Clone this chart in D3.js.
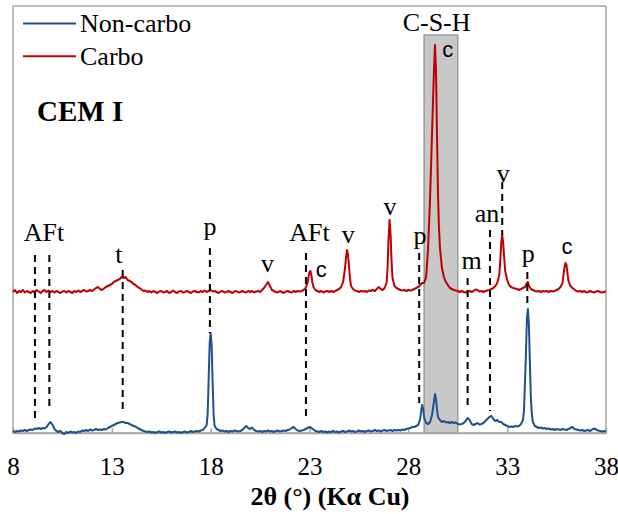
<!DOCTYPE html>
<html>
<head>
<meta charset="utf-8">
<script src="https://cdn.jsdelivr.net/npm/d3@7"></script>
<style>
  html, body { margin: 0; padding: 0; background: #fff; }
  svg text { font-family: "Liberation Serif", "DejaVu Serif", serif; fill: #000; }
</style>
</head>
<body>
<svg id="chart" width="618" height="514"></svg>
<script>
// ---------- DATA ----------
const xTicks = [8, 13, 18, 23, 28, 33, 38];

const nonCarboTheta = [8.0,8.1,8.2,8.3,8.4,8.5,8.6,8.7,8.8,8.9,9.0,9.1,9.2,9.3,9.4,9.5,9.6,9.7,9.8,9.9,10.0,10.1,10.2,10.3,10.4,10.5,10.6,10.7,10.8,10.9,11.0,11.1,11.2,11.3,11.4,11.5,11.6,11.7,11.8,11.9,12.0,12.1,12.2,12.3,12.4,12.5,12.6,12.7,12.8,12.9,13.0,13.1,13.2,13.3,13.4,13.5,13.6,13.7,13.8,13.9,14.0,14.1,14.2,14.3,14.4,14.5,14.6,14.7,14.8,14.9,15.0,15.1,15.2,15.3,15.4,15.5,15.6,15.7,15.8,15.9,16.0,16.1,16.2,16.3,16.4,16.5,16.6,16.7,16.8,16.9,17.0,17.1,17.2,17.3,17.4,17.5,17.6,17.7,17.8,17.85,17.9,17.95,18.0,18.05,18.1,18.15,18.2,18.3,18.4,18.5,18.6,18.7,18.8,18.9,19.0,19.1,19.2,19.3,19.4,19.5,19.6,19.7,19.8,19.9,20.0,20.1,20.2,20.3,20.4,20.5,20.6,20.7,20.8,20.9,21.0,21.1,21.2,21.3,21.4,21.5,21.6,21.7,21.8,21.9,22.0,22.1,22.2,22.3,22.4,22.5,22.6,22.7,22.8,22.9,23.0,23.1,23.2,23.3,23.4,23.5,23.6,23.7,23.8,23.9,24.0,24.1,24.2,24.3,24.4,24.5,24.6,24.7,24.8,24.9,25.0,25.1,25.2,25.3,25.4,25.5,25.6,25.7,25.8,25.9,26.0,26.1,26.2,26.3,26.4,26.5,26.6,26.7,26.8,26.9,27.0,27.1,27.2,27.3,27.4,27.5,27.6,27.7,27.8,27.9,28.0,28.1,28.2,28.3,28.4,28.5,28.6,28.65,28.7,28.75,28.8,28.9,29.0,29.1,29.2,29.3,29.35,29.4,29.45,29.5,29.6,29.7,29.8,29.9,30.0,30.1,30.2,30.3,30.4,30.5,30.6,30.7,30.8,30.9,31.0,31.1,31.2,31.3,31.4,31.5,31.6,31.7,31.8,31.9,32.0,32.1,32.2,32.3,32.4,32.5,32.6,32.7,32.8,32.9,33.0,33.1,33.2,33.3,33.4,33.5,33.6,33.7,33.8,33.85,33.9,33.95,34.0,34.05,34.1,34.15,34.2,34.25,34.3,34.4,34.5,34.6,34.7,34.8,34.9,35.0,35.1,35.2,35.3,35.4,35.5,35.6,35.7,35.8,35.9,36.0,36.1,36.2,36.3,36.4,36.5,36.6,36.7,36.8,36.9,37.0,37.1,37.2,37.3,37.4,37.5,37.6,37.7,37.8,37.9,38.0];
const nonCarboCounts = [2,1,2,1.5,2.5,2,3,2,3,3.5,3,4.5,4,5,4,5,4.5,6,9,11,8,4,2,1,2,0,-1,1,0,1.5,0.5,1,0,1.5,1,2.5,2,3,2,3.5,2.5,3,4,3,3.5,3,4,3.5,5,6,7,8,9,10,10.5,11,11,10,10,9,8,7,6.5,5,4,3,2,1.5,1,1.5,0.5,1,0,1,1.5,0.5,1,0,1,1.5,0.5,1,1.5,0.5,1,0,1,1.5,0.5,1,2,1,1.5,2,1.5,2.5,3,5,8,20,55,90,100,88,50,18,7,4,3,2,2.5,1.5,2,1,2,1.5,2.5,2,1.5,2,3,5,7,5,4,5.5,3,2,1.5,2,1,2,1.5,2.5,1.5,2,1,2,2.5,1.5,2,2.5,2,3,3.5,5,6,4,2.5,2,2.5,3,4,5,6,5,3.5,2,1.5,1,2,1,1.5,0.5,1.5,1,2,1,1.5,0.5,1.5,2,1,1.5,2.5,1.5,2,1,1.5,2.5,1.5,2,1,2,2.5,1.5,2,3,2,2.5,1.5,2.5,3,2,2.5,3,2,3,2.5,3,2.5,3.5,3,4,4.5,5,6,6,7,8,14,22,28,24,15,10,9,11,18,32,39,34,24,16,13,11,12,10.5,11,10,11,10,10.5,9,8.5,9,10,12,15,13,9,8,9,10,8.5,9,10,12,14,16,17,14,12,13,11,11,9,8,7,6,6.5,6,7,6.5,7,9,13,22,50,80,115,124,108,70,35,18,11,7,6,5,5.5,4.5,5,4,4.5,3.5,4,3,4,3.5,3,4,3.5,3,4,5,6,4,3.5,3,2.5,3,2,2.5,3,2,3.5,4.5,3.5,2.5,2,1.5,2,1.5];

const carboTheta = [8.0,8.1,8.2,8.3,8.4,8.5,8.6,8.7,8.8,8.9,9.0,9.1,9.2,9.3,9.4,9.5,9.6,9.7,9.8,9.9,10.0,10.1,10.2,10.3,10.4,10.5,10.6,10.7,10.8,10.9,11.0,11.1,11.2,11.3,11.4,11.5,11.6,11.7,11.8,11.9,12.0,12.1,12.2,12.3,12.4,12.5,12.6,12.7,12.8,12.9,13.0,13.1,13.2,13.3,13.4,13.5,13.6,13.7,13.8,13.9,14.0,14.1,14.2,14.3,14.4,14.5,14.6,14.7,14.8,14.9,15.0,15.1,15.2,15.3,15.4,15.5,15.6,15.7,15.8,15.9,16.0,16.1,16.2,16.3,16.4,16.5,16.6,16.7,16.8,16.9,17.0,17.1,17.2,17.3,17.4,17.5,17.6,17.7,17.8,17.9,18.0,18.1,18.2,18.3,18.4,18.5,18.6,18.7,18.8,18.9,19.0,19.1,19.2,19.3,19.4,19.5,19.6,19.7,19.8,19.9,20.0,20.1,20.2,20.3,20.4,20.5,20.6,20.7,20.8,20.9,21.0,21.1,21.2,21.3,21.4,21.5,21.6,21.7,21.8,21.9,22.0,22.1,22.2,22.3,22.4,22.5,22.6,22.7,22.8,22.9,22.95,23.0,23.05,23.1,23.15,23.2,23.3,23.4,23.5,23.6,23.7,23.8,23.9,24.0,24.1,24.2,24.3,24.4,24.5,24.6,24.7,24.8,24.85,24.9,24.95,25.0,25.05,25.1,25.2,25.3,25.4,25.5,25.6,25.7,25.8,25.9,26.0,26.1,26.2,26.3,26.4,26.5,26.6,26.7,26.8,26.9,26.95,27.0,27.05,27.1,27.15,27.2,27.3,27.4,27.5,27.6,27.7,27.8,27.9,28.0,28.1,28.2,28.3,28.4,28.5,28.6,28.7,28.8,28.9,29.0,29.1,29.2,29.3,29.35,29.4,29.45,29.5,29.55,29.6,29.7,29.8,29.9,30.0,30.1,30.2,30.3,30.4,30.5,30.6,30.7,30.8,30.9,31.0,31.1,31.2,31.3,31.4,31.5,31.6,31.7,31.8,31.9,32.0,32.1,32.2,32.3,32.4,32.5,32.6,32.65,32.7,32.75,32.8,32.85,32.9,33.0,33.1,33.2,33.3,33.4,33.5,33.6,33.7,33.8,33.9,34.0,34.05,34.1,34.2,34.3,34.4,34.5,34.6,34.7,34.8,34.9,35.0,35.1,35.2,35.3,35.4,35.5,35.6,35.7,35.8,35.85,35.9,35.95,36.0,36.05,36.1,36.2,36.3,36.4,36.5,36.6,36.7,36.8,36.9,37.0,37.1,37.2,37.3,37.4,37.5,37.6,37.7,37.8,37.9,38.0];
const carboCounts = [141,143,140,142,141,143,140.5,142,141,140,142,141,143,141.5,140,142,143,141,142.5,141,142,140.5,142,141,140,141.5,142,140.5,142,141,140,142,141,142.5,141,142,143,141.5,142,143,142,143.5,145,146,144,143,144.5,146,147,148,149,151,152,153,154,156,155,156,153,152,151,149,148,146,145,143.5,142,142.5,141,142,140.5,142,141,140,141.5,142,140.5,141,142,140,141,142.5,141,140,141.5,142,140.5,141,142,141,140,141.5,142,141,140.5,142,141,142.5,141,142,143,141.5,142,141,140,141.5,142,140.5,141,142,141,140,141.5,142,140.5,141,142,141,140.5,142,141,142,140.5,141.5,142,141,143,145,148,151,147,143,142,141,140.5,142,141,140,141.5,142,141,140.5,142,141,142,141.5,142,143,145,150,156,161,162,157,150,146,143,142,141,142,140.5,141.5,142,141,142,141,142,143,144,146,151,165,176,183,178,166,154,147,144,142.5,142,141,142,141.5,142,141,142.5,142,143,142,144,146,144,143,145,150,165,195,213,200,172,155,147,145,144,143,142.5,143,142,143,142.5,143,144,145,146,148,150,150,156,185,235,300,365,388,362,300,240,205,185,165,156,151,148,145,144,143,142.5,142,141,142,141,140.5,141.5,142,141,142,143.5,143,141.5,142,141,142,142.5,143,144,145,147,150,158,172,190,198,190,175,162,153,148,146,145,144.5,144,143,144,145,146,150,151,147,144,143,142,141.5,142,141,142,141.5,142,141,142,141.5,142,143,144,146,150,158,166,170,168,160,152,147,145,143.5,142,141.5,142,141,142,140.5,141,142,141,140.5,141.5,142,141,140.5,141,141.5];

// Shaded C-S-H region (2θ range)
const cshRange = [28.8, 30.5];
const cshTop = 398;

// Reference (dashed) lines: position in 2θ, from / to intensity
const markerTheta  = [9.11, 9.84, 13.55, 17.96, 22.82, 28.55, 31.0, 32.13, 32.75, 34.02];
const markerFrom   = [178, 178, 163, 185, 180, 180, 155, 203, 251, 161];
const markerTo     = [11, 27, 21, 100, 13, 30, 25, 22, 198, 130];

// Phase labels
const labelText  = ["AFt","t","p","v","AFt","c","v","v","p","c","m","an","v","p","c"];
const labelTheta = [9.57,13.36,17.96,20.87,23.0,23.6,24.96,27.07,28.59,30.0,31.2,31.98,32.8,34.07,36.03];
const labelCount = [192,170,198,161,192,156,190,218,189,376,164,211,251,171,179];

const seriesNames = ["Non-carbo", "Carbo"];
const seriesColors = ["#23508c", "#c00000"];

// ---------- CHART ----------
const svg = d3.select("#chart");
const mLeft = 13, mRight = 606, mTop = 6, mBottom = 433;

const x = d3.scaleLinear().domain([8, 38]).range([mLeft, mRight]);
const y = d3.scaleLinear().domain([0, 427]).range([mBottom, mTop]);

// plot border
svg.append("rect")
  .attr("x", mLeft).attr("y", mTop)
  .attr("width", mRight - mLeft).attr("height", mBottom - mTop)
  .attr("fill", "none").attr("stroke", "#a6a6a6").attr("stroke-width", 1.5);

// C-S-H box
svg.append("rect")
  .attr("x", x(cshRange[0])).attr("y", y(cshTop))
  .attr("width", x(cshRange[1]) - x(cshRange[0]))
  .attr("height", y(0) - y(cshTop))
  .attr("fill", "#c8c8c8").attr("stroke", "#9a9a9a").attr("stroke-width", 1.5);

// x axis
const xAxis = d3.axisBottom(x).tickValues(xTicks).tickSizeInner(-5).tickSizeOuter(0).tickPadding(0);
const gx = svg.append("g").attr("transform", `translate(0,${mBottom})`).call(xAxis);
gx.select(".domain").attr("stroke", "#a6a6a6").attr("stroke-width", 1.5);
gx.selectAll(".tick line").attr("stroke", "#a6a6a6").attr("stroke-width", 1.5);
gx.selectAll(".tick text")
  .attr("y", 42).attr("dy", null)
  .style("font-family", '"Liberation Serif", serif')
  .style("font-size", "25px").attr("fill", "#000");

// series
const line = d3.line().x(d => x(d[0])).y(d => y(d[1]));
const nonCarbo = nonCarboTheta.map((t, i) => [t, nonCarboCounts[i]]);
const carbo = carboTheta.map((t, i) => [t, carboCounts[i]]);

svg.append("path").datum(nonCarbo).attr("d", line)
  .attr("fill", "none").attr("stroke", seriesColors[0]).attr("stroke-width", 2).attr("stroke-linejoin", "round");
svg.append("path").datum(carbo).attr("d", line)
  .attr("fill", "none").attr("stroke", seriesColors[1]).attr("stroke-width", 2).attr("stroke-linejoin", "round");

// dashed markers
svg.append("g").selectAll("line").data(markerTheta).join("line")
  .attr("x1", d => x(d)).attr("x2", d => x(d))
  .attr("y1", (d, i) => y(markerFrom[i])).attr("y2", (d, i) => y(markerTo[i]))
  .attr("stroke", "#000").attr("stroke-width", 2).attr("stroke-dasharray", "7,5");

// labels ("c" labels are set in a sans face as in the reference)
svg.append("g").selectAll("text").data(labelText).join("text")
  .attr("x", (d, i) => x(labelTheta[i]))
  .attr("y", (d, i) => y(labelCount[i]))
  .attr("text-anchor", "middle")
  .style("font-family", d => d === "c" ? '"Liberation Sans", Arial, sans-serif' : null)
  .style("font-size", d => d === "c" ? "22px" : "26px")
  .text(d => d);

svg.append("text")
  .attr("x", x(29.43)).attr("y", y(402))
  .attr("text-anchor", "middle").style("font-size", "26px")
  .text("C-S-H");

// legend
seriesNames.forEach((name, i) => {
  const ly = 23.5 + i * 32.7;
  svg.append("line").attr("x1", 23).attr("x2", 76).attr("y1", ly).attr("y2", ly)
    .attr("stroke", seriesColors[i]).attr("stroke-width", 2);
  svg.append("text").attr("x", 80).attr("y", ly + 8.5)
    .style("font-size", "26px").text(name);
});

svg.append("text").attr("x", 37).attr("y", 121)
  .style("font-size", "29px").style("font-weight", "bold").text("CEM I");

// axis title
svg.append("text").attr("x", 330).attr("y", 505)
  .attr("text-anchor", "middle")
  .style("font-size", "26px").style("font-weight", "bold")
  .text("2θ (°) (Kα Cu)");
</script>
</body>
</html>
